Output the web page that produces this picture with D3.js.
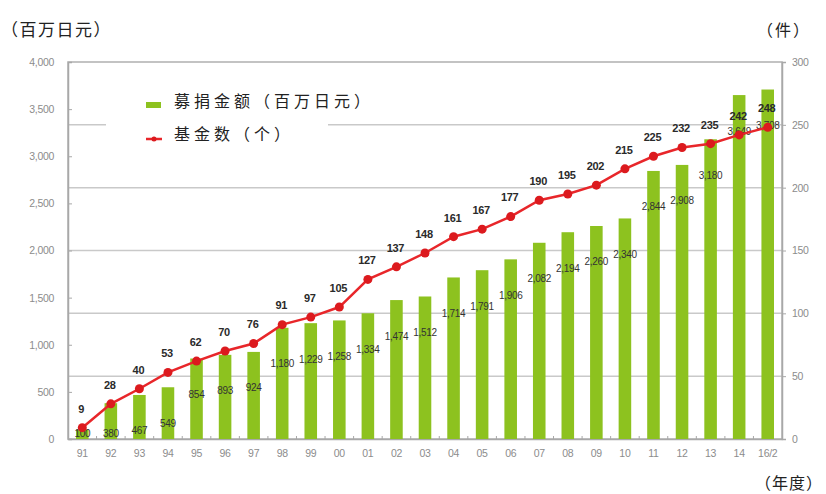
<!DOCTYPE html>
<html>
<head>
<meta charset="utf-8">
<script src="https://cdn.jsdelivr.net/npm/d3@7"></script>
<style>
  body { margin: 0; background: #fff; }
  svg { display: block; font-family: "Liberation Sans", Arial, sans-serif; }
  .cjk { font-family: "Noto Sans CJK SC", sans-serif; }
</style>
</head>
<body>
<svg id="chart" width="826" height="494"></svg>
<script>
// 年度
const years = ['91', '92', '93', '94', '95', '96', '97', '98', '99', '00', '01', '02', '03',
  '04', '05', '06', '07', '08', '09', '10', '11', '12', '13', '14', '16/2'];
// 募捐金额（百万日元）
const amounts = [100, 380, 467, 549, 854, 893, 924, 1180, 1229, 1258, 1334, 1474, 1512,
  1714, 1791, 1906, 2082, 2194, 2260, 2340, 2844, 2908, 3180, 3649, 3708];
// 基金数（个）
const funds = [9, 28, 40, 53, 62, 70, 76, 91, 97, 105, 127, 137, 148,
  161, 167, 177, 190, 195, 202, 215, 225, 232, 235, 242, 248];
const leftTicks = [0, 500, 1000, 1500, 2000, 2500, 3000, 3500, 4000];
const rightTicks = [0, 50, 100, 150, 200, 250, 300];

const svg = d3.select('#chart');
const m = { left: 68, right: 782, top: 62, bottom: 439 };

const x = d3.scaleBand().domain(years).range([m.left, m.right]).paddingInner(0.56).paddingOuter(0.28);
const yL = d3.scaleLinear().domain([0, 4000]).range([m.bottom, m.top]);
const yR = d3.scaleLinear().domain([0, 300]).range([m.bottom, m.top]);
const fmt = d3.format(',');

// gridlines (right axis)
svg.append('g')
  .selectAll('line')
  .data(rightTicks.filter(d => d > 0 && d < 300))
  .join('line')
  .attr('x1', m.left).attr('x2', m.right)
  .attr('y1', d => yR(d)).attr('y2', d => yR(d))
  .attr('stroke', '#c9c9c9')
  .attr('stroke-width', 1.5);

// legend background hides the gridline
svg.append('rect')
  .attr('x', 106).attr('y', 86).attr('width', 222).attr('height', 62)
  .attr('fill', '#fff');

// plot frame
svg.append('rect')
  .attr('x', m.left).attr('y', m.top)
  .attr('width', m.right - m.left).attr('height', m.bottom - m.top)
  .attr('fill', 'none')
  .attr('stroke', '#b0b0b0')
  .attr('stroke-width', 1.5);

// left axis
const axL = svg.append('g').attr('transform', `translate(${m.left},0)`)
  .call(d3.axisLeft(yL).tickValues(leftTicks).tickFormat(fmt).tickSize(-4).tickPadding(14));
axL.select('.domain').attr('stroke', '#a8a8a8').attr('stroke-width', 1.5);
axL.selectAll('.tick line').attr('stroke', '#a8a8a8');
axL.selectAll('text').attr('fill', '#8c8c8c').attr('font-size', 10.5).attr('letter-spacing', -0.3);

// right axis
const axR = svg.append('g').attr('transform', `translate(${m.right},0)`)
  .call(d3.axisRight(yR).tickValues(rightTicks).tickSize(4).tickPadding(6));
axR.select('.domain').attr('stroke', '#a8a8a8').attr('stroke-width', 1.5);
axR.selectAll('.tick line').attr('stroke', '#a8a8a8');
axR.selectAll('text').attr('fill', '#8c8c8c').attr('font-size', 10.5).attr('letter-spacing', -0.3);

// bottom axis
const axB = svg.append('g').attr('transform', `translate(0,${m.bottom})`)
  .call(d3.axisBottom(x).tickSize(0).tickPadding(11));
axB.select('.domain').attr('stroke', '#a8a8a8').attr('stroke-width', 1.5);
axB.selectAll('text').attr('fill', '#8c8c8c').attr('font-size', 10.5).attr('letter-spacing', -0.3);

// small category boundary ticks
svg.append('g')
  .selectAll('line')
  .data(years.slice(1))
  .join('line')
  .attr('x1', d => x(d) - x.step() * x.paddingInner() / 2)
  .attr('x2', d => x(d) - x.step() * x.paddingInner() / 2)
  .attr('y1', m.bottom).attr('y2', m.bottom - 3)
  .attr('stroke', '#a8a8a8');

// bars
svg.append('g')
  .selectAll('rect')
  .data(amounts)
  .join('rect')
  .attr('x', (d, i) => x(years[i]))
  .attr('y', d => yL(d))
  .attr('width', x.bandwidth())
  .attr('height', d => yL(0) - yL(d))
  .attr('fill', '#8dc21f');

// bar value labels
svg.append('g')
  .selectAll('text')
  .data(amounts)
  .join('text')
  .attr('x', (d, i) => x(years[i]) + x.bandwidth() / 2)
  .attr('y', d => Math.min(yL(d) + 36, yL(0) - 6))
  .attr('dy', '0.35em')
  .attr('text-anchor', 'middle')
  .attr('font-size', 10)
  .attr('letter-spacing', -0.3)
  .attr('fill', '#333')
  .text(d => fmt(d));

// line
const cx = i => x(years[i]) + x.bandwidth() / 2;
const line = d3.line().x((d, i) => cx(i)).y(d => yR(d));
svg.append('path')
  .datum(funds)
  .attr('d', line)
  .attr('fill', 'none')
  .attr('stroke', '#e8262a')
  .attr('stroke-width', 2.5);

svg.append('g')
  .selectAll('circle')
  .data(funds)
  .join('circle')
  .attr('cx', (d, i) => cx(i))
  .attr('cy', d => yR(d))
  .attr('r', 4.5)
  .attr('fill', '#dc1a1e');

svg.append('g')
  .selectAll('text')
  .data(funds)
  .join('text')
  .attr('x', (d, i) => cx(i) - 1)
  .attr('y', d => yR(d) - 19)
  .attr('dy', '0.35em')
  .attr('text-anchor', 'middle')
  .attr('font-size', 11)
  .attr('font-weight', 'bold')
  .attr('letter-spacing', -0.3)
  .attr('fill', '#2a2a2a')
  .text(d => d);

// legend
const lg = svg.append('g').attr('class', 'cjk');
lg.append('rect').attr('x', 146).attr('y', 102).attr('width', 15).attr('height', 6).attr('fill', '#8dc21f');
lg.append('line').attr('x1', 146).attr('x2', 162).attr('y1', 139).attr('y2', 139)
  .attr('stroke', '#e8262a').attr('stroke-width', 2.5);
lg.append('circle').attr('cx', 154).attr('cy', 139).attr('r', 2.5).attr('fill', '#dc1a1e');
lg.append('text').attr('x', 174).attr('y', 101).attr('dy', '0.35em')
  .attr('font-size', 16).attr('letter-spacing', 4).attr('fill', '#222').text('募捐金额（百万日元）');
lg.append('text').attr('x', 174).attr('y', 134).attr('dy', '0.35em')
  .attr('font-size', 16).attr('letter-spacing', 4).attr('fill', '#222').text('基金数（个）');

// unit labels
svg.append('text').attr('class', 'cjk').attr('x', 1).attr('y', 30).attr('dy', '0.35em')
  .attr('font-size', 17).attr('letter-spacing', 1.5).attr('fill', '#222').text('（百万日元）');
svg.append('text').attr('class', 'cjk').attr('x', 757).attr('y', 30).attr('dy', '0.35em')
  .attr('font-size', 16).attr('letter-spacing', 2).attr('fill', '#222').text('（件）');
svg.append('text').attr('class', 'cjk').attr('x', 755).attr('y', 483).attr('dy', '0.35em')
  .attr('font-size', 16).attr('letter-spacing', 1).attr('fill', '#222').text('（年度）');
</script>
</body>
</html>
